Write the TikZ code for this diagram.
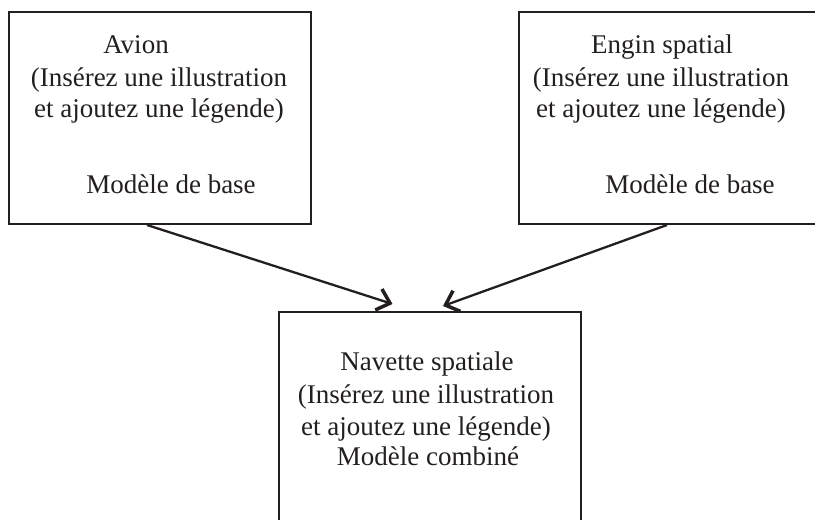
\documentclass[tikz,border=0pt]{standalone}
\usepackage{fontspec}
\setmainfont{Liberation Serif}
\usetikzlibrary{arrows.meta}
\definecolor{ink}{HTML}{231F20}
\begin{document}
\begin{tikzpicture}[x=1pt,y=-1pt,
  box/.style={draw=ink,line width=2pt,minimum width=302pt,minimum height=212pt,inner sep=0pt},
  txt/.style={anchor=base,inner sep=0pt,font=\fontsize{27}{32}\selectfont,text=ink},
  arr/.style={draw=ink,line width=2.3pt,-{Straight Barb[length=12pt,width=22pt,line width=3.5pt]}}]
\useasboundingbox (0,0) rectangle (815,520);
\node[box] (avion) at (160,118) {};
\node[box] (engin) at (670,118) {};
\node[box] (comb) at (429.5,418) {};
% left box text
\node[txt] (a1) at (136,53) {Avion};
\node[txt] (a2) at (159,86) {(Insérez une illustration};
\node[txt] (a3) at (159,117) {et ajoutez une légende)};
\node[txt] (a4) at (171,193) {Modèle de base};
% right box text
\node[txt] (e1) at (662,53) {Engin spatial};
\node[txt] (e2) at (661,86) {(Insérez une illustration};
\node[txt] (e3) at (661,117) {et ajoutez une légende)};
\node[txt] (e4) at (690,193) {Modèle de base};
% bottom box text
\node[txt] (c1) at (427,370) {Navette spatiale};
\node[txt] (c2) at (426,403) {(Insérez une illustration};
\node[txt] (c3) at (426,435) {et ajoutez une légende)};
\node[txt] (c4) at (428,465) {Modèle combiné};
% connectors
\draw[arr] ([xshift=-13pt]avion.south) -- ([xshift=-37pt,yshift=7pt]comb.north);
\draw[arr] ([xshift=-3pt]engin.south) -- ([xshift=13.5pt,yshift=5pt]comb.north);
\end{tikzpicture}
\end{document}
